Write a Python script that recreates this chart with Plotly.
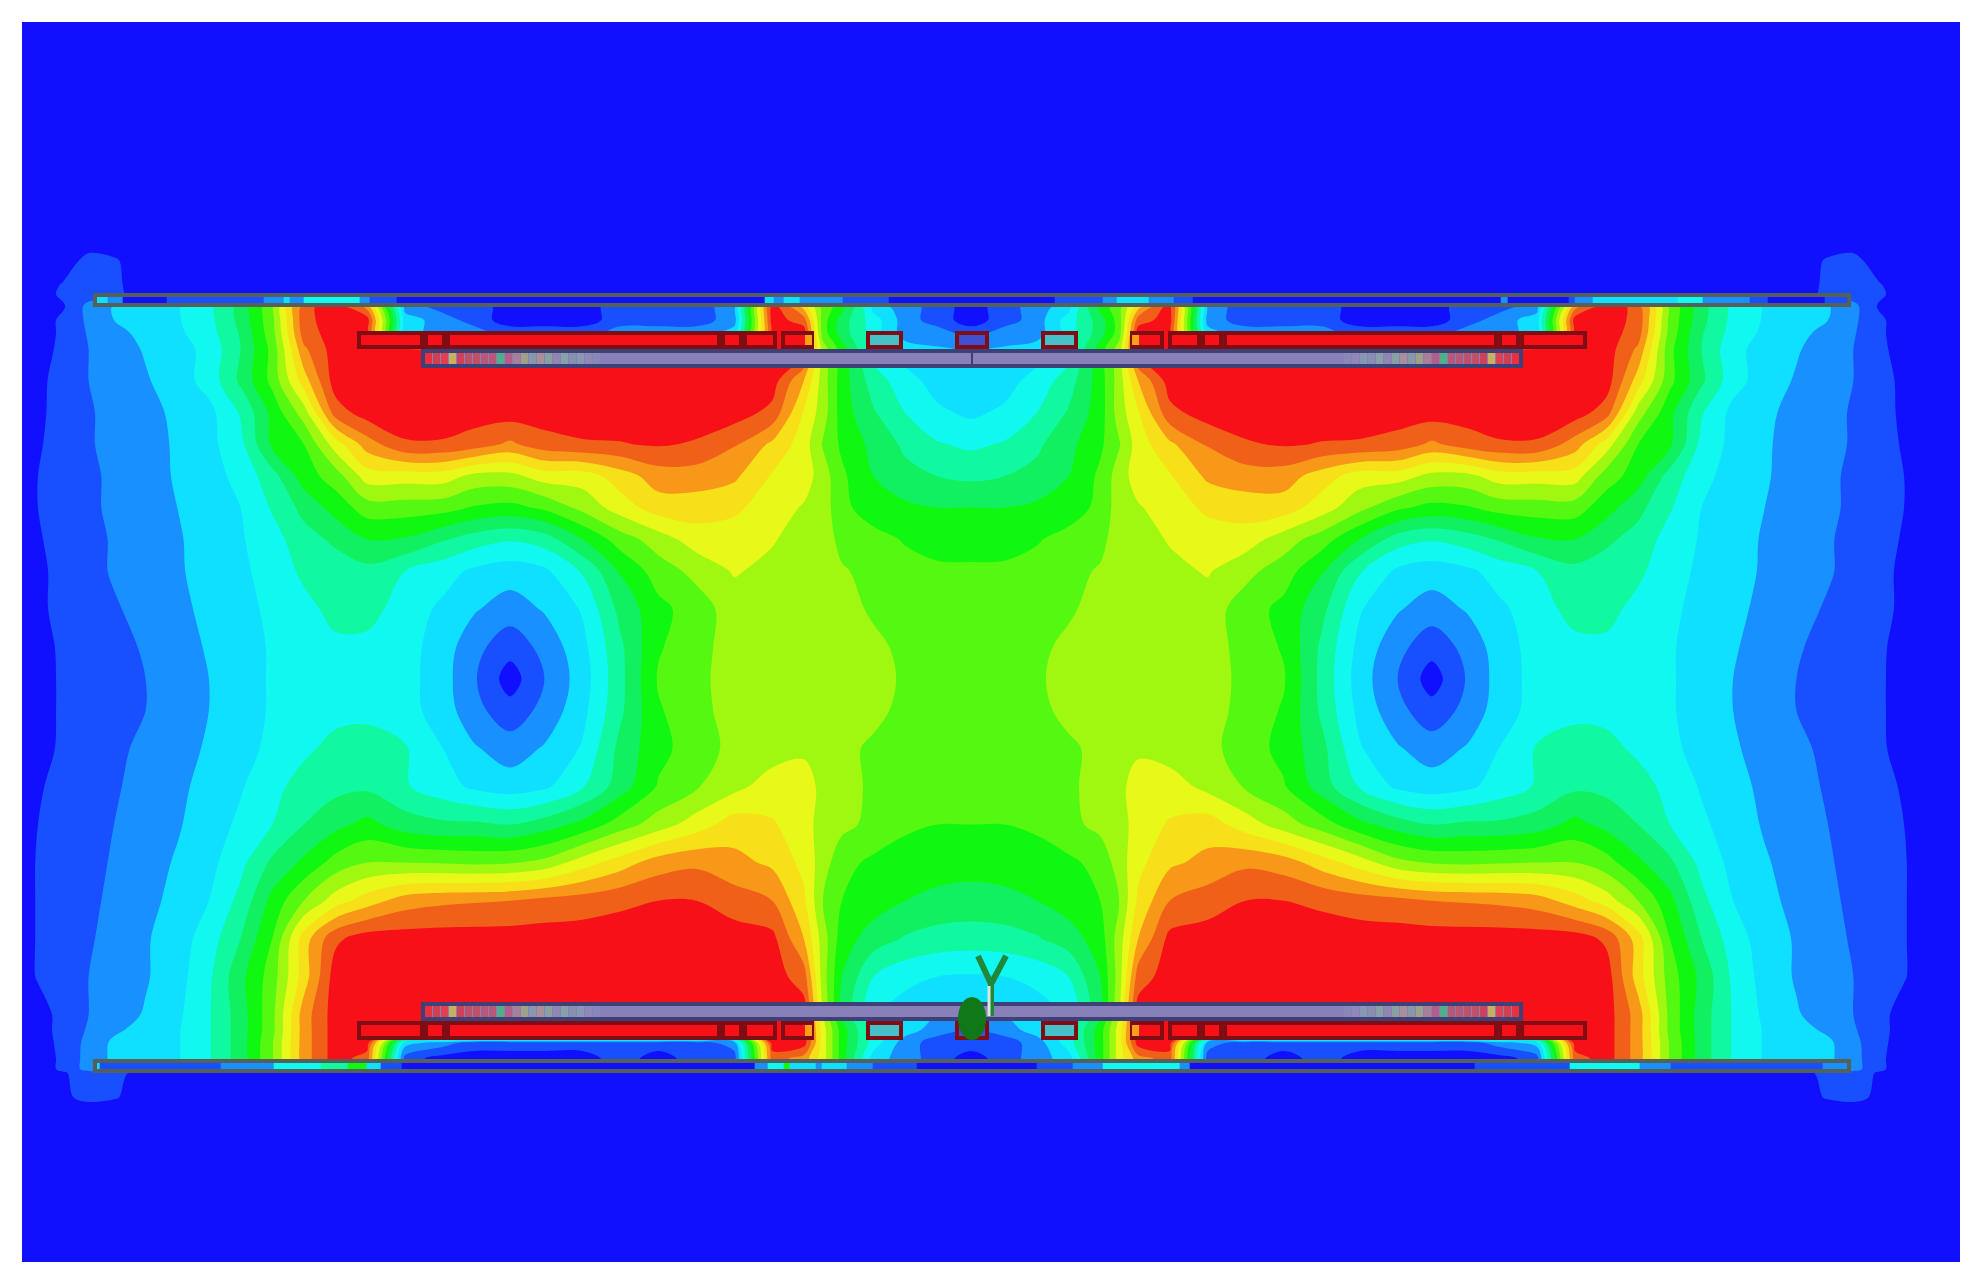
import plotly.graph_objects as go

# axis units are the coordinates of the 1568 wide view, device parts are in full size pixels
PX = 1985 / 1568

band_colors = [
    "#1010ff", "#1850ff", "#1890ff", "#10e0ff", "#10f8f0",
    "#10f8a0", "#10f060", "#10f810", "#55f810", "#a0f810",
    "#e8f818", "#f8e018", "#f89818", "#f06018", "#f81018",
]

x_left = [17, 30, 50, 70, 90, 115, 140, 165, 190, 215, 240, 265, 290, 320, 350, 375,
          403, 430, 460, 490, 520, 550, 580, 610, 635, 650, 665, 690, 715, 740, 767]

y_rows = [17, 190, 205, 225, 232, 241, 252, 262, 275, 300, 325, 350, 375, 400, 425, 450, 480, 510,
          535, 560, 590, 620, 650, 680, 710, 740, 770, 800, 812, 822, 835, 843, 846, 865, 875, 995]

# field level on the left half, one row per y_rows entry
field_left = [
    [0] * 31,
    [0] * 31,
    [0, 0, 0, .8, .6] + [0] * 26,
    [0, 0, .6, 1, .7] + [0] * 26,
    [0, 0, .7, 1, .8] + [0] * 26,
    [0, 0, .4, 1.8, 2.6, 3, 3.4, 4.2, 5.8, 8.2, 13.2, 14, 12, 2, 1, 1, 0, 0, 0, 1, 1, 1, 2, 14, 11, 8, 7, 3, 2, 1, 0],
    [0, 0, .7, 1.7, 2.5, 2.9, 3.4, 4.2, 5.8, 8.2, 13.2, 14, 14, 3, 2, 1, 0, 0, 0, 1, 1, 1, 2, 14, 13, 8, 6, 4, 2, 1, 0],
    [0, 0, .7, 1.6, 2.2, 2.8, 3.3, 4.1, 5.6, 8.1, 13, 14, 14, 3, 2, 2, 1, 1, 1, 2, 2, 2, 3, 14, 14, 8, 6, 4, 2, 2, 1],
    [0, 0, .8, 1.5, 2, 2.6, 3.1, 3.8, 5.5, 7.8, 12.3] + [14] * 14 + [9, 7, 4, 3, 2.6, 2.4],
    [0, .2, 1, 1.5, 1.9, 2.4, 3, 3.9, 5.7, 7.8, 11] + [14] * 13 + [11.5, 9, 7, 5, 3.9, 3.1, 2.8],
    [0, .3, .9, 1.4, 1.8, 2.2, 2.7, 3.2, 4.6, 6.8, 9, 13] + [14] * 11 + [13.2, 10.4, 9, 7, 5.6, 4.5, 3.7, 3.3],
    [0, .4, .9, 1.4, 1.8, 2.2, 2.6, 3.2, 4.2, 6.7, 7.5, 10, 12, 13.4, 13.4, 13, 12.3, 13.1, 13.4, 13.45, 13.6, 13.4, 12.6, 11.3, 10, 8.4, 7.3, 6.2, 5.3, 4.6, 4.3],
    [0, .5, .9, 1.3, 1.7, 2.1, 2.6, 3.1, 3.8, 5.1, 7, 8, 10, 10, 10, 9.2, 9.2, 10, 10, 11, 12, 12, 11.7, 10.4, 10, 9, 7.7, 6.5, 5.8, 5.5, 5.3],
    [0, .5, .9, 1.3, 1.7, 2.1, 2.5, 3, 3.5, 4.6, 5.8, 6.9, 8, 8, 7.9, 7.4, 7.2, 7.7, 8.8, 10, 11, 11, 10.7, 10, 9.4, 9, 7.8, 6.9, 6.7, 6.5, 6.5],
    [0, .4, .9, 1.2, 1.6, 2, 2.4, 2.9, 3.4, 4.1, 5.1, 5.7, 6.5, 6.4, 5.6, 5, 4.6, 5, 6.5, 8, 9, 10, 10, 9.6, 9, 9, 8.2, 7.9, 7.4, 7.1, 7],
    [0, .3, .8, 1.2, 1.6, 2, 2.4, 2.8, 3.3, 3.9, 4.7, 5, 5.2, 4.5, 3.9, 3.3, 3, 3.3, 4.6, 6.6, 8, 8.8, 9.6, 9.2, 9, 9, 8.6, 8.2, 7.9, 7.7, 7.7],
    [0, .3, .8, 1.1, 1.4, 1.8, 2.3, 2.7, 3.2, 3.7, 4.2, 4.8, 4.9, 4, 3.3, 2.6, 2, 2.6, 3.6, 5.8, 7.2, 8, 9, 9, 9, 9, 9, 8.3, 8.2, 8.2, 8.2],
    [0, .1, .7, 1, 1.2, 1.6, 2.1, 2.6, 3.1, 3.6, 4, 4.3, 4.2, 3.9, 3, 1.8, .9, 1.8, 3.2, 5.3, 7.4, 8.1, 9, 9, 9, 9, 9, 8.8, 8.2, 8.2, 8.2],
    [0, 0, .7, .9, 1.2, 1.5, 2, 2.5, 3.1, 3.6, 3.9, 4, 4, 3.9, 2.9, 1.6, 0, 1.5, 3, 5.2, 7.6, 8.2, 9, 9, 9, 9, 9, 9, 8.3, 8.2, 8.2],
    [0, 0, .7, .9, 1.2, 1.5, 2, 2.5, 3.1, 3.6, 4, 4.2, 4.2, 3.9, 3, 1.8, .9, 1.8, 3.2, 5.3, 7.4, 8.1, 9, 9, 9, 9, 9, 8.8, 8.2, 8.2, 8.2],
    [0, .1, .7, 1, 1.3, 1.7, 2.2, 2.6, 3.2, 3.7, 4.3, 4.8, 5, 4.6, 3.5, 2.6, 2, 2.6, 3.6, 5.8, 7.2, 8, 8.8, 9, 9.3, 9, 8.8, 8.3, 8.2, 8.2, 8.2],
    [0, .4, .8, 1.1, 1.4, 1.8, 2.3, 2.8, 3.4, 4.2, 4.9, 5.2, 5.3, 4.6, 3.9, 3.3, 3, 3.3, 4.4, 6, 7.6, 8.4, 9.2, 10, 10, 9.2, 8.7, 8.4, 8.1, 8, 8],
    [0, .5, .8, 1.2, 1.5, 1.9, 2.4, 3, 3.7, 4.5, 5.5, 6.2, 6.8, 6, 5.7, 5.7, 5.5, 6, 6.8, 8, 9, 10, 11, 10.6, 10, 9, 8.8, 8.2, 7.7, 7.5, 7.5],
    [0, .6, .9, 1.2, 1.6, 2.1, 2.6, 3.2, 4.2, 5.7, 6.7, 7.9, 8.5, 8.5, 8.4, 8.3, 8.4, 8.8, 10, 11, 12, 12.3, 11.8, 11.3, 10.2, 9, 7.8, 7.3, 7, 7, 6.9],
    [0, .6, 1, 1.3, 1.7, 2.2, 2.8, 3.5, 4.8, 6.8, 8.5, 10, 11, 12, 12.3, 12.4, 12.5, 12.8, 13, 13.3, 13.5, 13.5, 13, 12.5, 10.7, 8.5, 7.5, 7, 6.5, 6.2, 6.1],
    [0, .6, 1, 1.4, 1.8, 2.4, 3, 4, 5.5, 7.5, 11, 13.3] + [14] * 11 + [13.8, 11.5, 9, 7, 6, 5.4, 5.1, 5],
    [0, .6, 1, 1.5, 1.9, 2.4, 3.1, 4.3, 6.2, 8, 11] + [14] * 13 + [13, 9, 6.5, 4.5, 3.8, 3.5, 3.4],
    [0, 0, .9, 1.5, 2, 2.6, 3.3, 4.4, 6, 8.2, 12] + [14] * 14 + [9.5, 6.3, 3.7, 3, 2.5, 2.2],
    [0, 0, .9, 1.6, 2.3, 2.9, 3.4, 4.4, 6, 8.2, 12] + [14] * 14 + [10, 7, 4, 3, 2, 1.5],
    [0, 0, .8, 1.8, 2.7, 3, 3.4, 4.4, 6, 8.4, 12, 14, 14, 3, 2, 1, 1, 1, 1, 1, 1, 1, 2, 14, 14, 10, 7, 4, 2, 1, 1],
    [0, 0, .7, 1.9, 2.7, 3, 3.4, 4.4, 6, 8.4, 12, 14, 13, 1, 0, 0, 0, 0, 0, 1, 0, 1, 1, 13, 12, 10, 7, 3, 2, 1, 0],
    [0, 0, .7, 1.9, 2.7, 3, 3.4, 4.4, 6, 8.4, 12, 14, 13, 1, 0, 0, 0, 0, 0, 1, 0, 1, 1, 13, 12, 10, 7, 3, 2, 1, 0],
    [0, 0, .4, 1, .9] + [0] * 26,
    [0, 0, .3, .8, .6] + [0] * 26,
    [0] * 31,
    [0] * 31,
]

# field seen through the two plates
top_strip_edges = [74, 85, 97, 132, 208, 224, 229, 240, 284, 292, 313, 604, 611, 619, 632, 666, 702,
                   833, 871, 882, 907, 927, 942, 1185, 1191, 1239, 1244, 1258, 1325, 1345, 1382, 1396, 1441, 1461]
top_strip_bands = [3, 2, 0, 1, 2, 3, 2, 4, 2, 1, 0, 3, 2, 3, 2, 1, 0,
                   1, 2, 3, 2, 1, 0, 2, 0, 1, 2, 3, 4, 2, 1, 0, 1]
bottom_strip_edges = [74, 79, 174, 216, 253, 275, 290, 301, 317, 596, 606, 619, 624, 644, 649, 669, 689,
                      724, 819, 847, 871, 932, 940, 1165, 1240, 1295, 1320, 1440, 1461]
bottom_strip_bands = [3, 1, 2, 4, 5, 7, 3, 1, 0, 2, 4, 7, 3, 2, 3, 2, 1,
                      0, 1, 2, 4, 2, 0, 1, 4, 2, 1, 2]

# device parts, full size pixels
coil_spans = [(357, 424), (424, 446), (446, 721), (721, 743), (743, 777), (781, 814),
              (1130, 1164), (1168, 1201), (1201, 1223), (1223, 1498), (1498, 1520), (1520, 1587)]
small_coil_spans = [(866, 903, "#48c0c8"), (955, 989, "#4050d0"), (1041, 1078, "#48c0c8")]
bar_tile_colors = ["#e83040", "#d04050", "#e04050", "#c8b060", "#d04058", "#c05068", "#c05068", "#b85878",
                   "#b85878", "#50b088", "#b06088", "#a88098", "#a0a088", "#8898a8", "#a89098", "#88a0a0",
                   "#9088b0", "#88a0a8", "#8890b0", "#8898b0", "#9088b8", "#8888b8"]

full_x = x_left + [1534 - x for x in x_left[-2::-1]] + [1550]
full_z = [row + row[-2::-1] + [0] for row in field_left]

n_bands = len(band_colors)
stepped = []
for i, c in enumerate(band_colors):
    stepped += [[i / n_bands, c], [(i + 1) / n_bands, c]]

fig = go.Figure()

fig.add_trace(
    go.Contour(
        x=full_x,
        y=y_rows,
        z=full_z,
        zmin=-0.5,
        zmax=14.5,
        colorscale=stepped,
        showscale=False,
        contours=dict(start=0.5, end=13.5, size=1, coloring="fill", showlines=False),
        line=dict(width=0),
        hoverinfo="skip",
    )
)

# heatmaps sit under contours on one subplot, so the strips go on overlaid axes
for edges, bands, y_band in [
    (top_strip_edges, top_strip_bands, [233, 240]),
    (bottom_strip_edges, bottom_strip_bands, [837, 844]),
]:
    fig.add_trace(
        go.Heatmap(
            x=edges,
            y=y_band,
            z=[bands],
            zmin=-0.5,
            zmax=14.5,
            colorscale=stepped,
            showscale=False,
            hoverinfo="skip",
            xaxis="x2",
            yaxis="y2",
        )
    )


def add_box(x0, x1, y0, y1, fill, line_color=None, width=0):
    fig.add_shape(
        type="rect",
        x0=x0 / PX,
        x1=x1 / PX,
        y0=y0 / PX,
        y1=y1 / PX,
        fillcolor=fill,
        line=dict(color=line_color or fill, width=width),
        layer="above",
    )


# plates
for y0, y1 in [(294, 304), (1059, 1069)]:
    add_box(95, 1849, y0, y1, "rgba(0,0,0,0)", "#556058", 4)

# coils and bars, top then bottom
for coil_y, bar_y in [((332, 346), (350, 365)), ((1021, 1036), (1002, 1017))]:
    for x0, x1 in coil_spans:
        add_box(x0 + 2, x1 - 2, coil_y[0], coil_y[1], "#f81018", "#800c14", 4)
    for x0, x1, fill in small_coil_spans:
        add_box(x0 + 2, x1 - 2, coil_y[0], coil_y[1], fill, "#800c14", 4)
    add_box(423, 1521, bar_y[0], bar_y[1], "#8880b8", "#404078", 4)
    for i, color in enumerate(bar_tile_colors):
        add_box(425 + i * 8, 432 + i * 8, bar_y[0] + 2, bar_y[1] - 2, color)
        add_box(1512 - i * 8, 1519 - i * 8, bar_y[0] + 2, bar_y[1] - 2, color)

add_box(971, 973, 350, 365, "#404078")

# orange ends of the two inner coils
add_box(805, 812, 334, 344, "#f8a018")
add_box(805, 812, 1023, 1034, "#f8a018")
add_box(1132, 1139, 334, 344, "#f8a018")
add_box(1132, 1139, 1023, 1034, "#f8a018")

# plug and Y shaped antenna
fig.add_shape(type="circle", x0=958 / PX, x1=986 / PX, y0=995 / PX, y1=1038 / PX,
              fillcolor="#107818", line=dict(width=0), layer="above")
for x_a, y_a, x_b, y_b in [(978, 954, 991, 982), (1006, 954, 991, 982), (991, 982, 991, 1014)]:
    fig.add_shape(type="line", x0=x_a / PX, y0=y_a / PX, x1=x_b / PX, y1=y_b / PX,
                  line=dict(color="#208838", width=6), layer="above")
fig.add_shape(type="line", x0=989 / PX, y0=984 / PX, x1=989 / PX, y1=1014 / PX,
              line=dict(color="#d8e8d8", width=3), layer="above")

x_range = [17.4, 1548.2]
y_range = [995, 17]
fig.update_layout(
    width=1969,
    height=1272,
    margin=dict(l=14, r=17, t=14, b=18),
    paper_bgcolor="white",
    plot_bgcolor="#1010ff",
    showlegend=False,
    xaxis=dict(range=x_range, visible=False, fixedrange=True),
    yaxis=dict(range=y_range, visible=False, fixedrange=True),
    xaxis2=dict(range=x_range, visible=False, fixedrange=True, overlaying="x"),
    yaxis2=dict(range=y_range, visible=False, fixedrange=True, overlaying="y"),
)

fig.write_html("out.html")
